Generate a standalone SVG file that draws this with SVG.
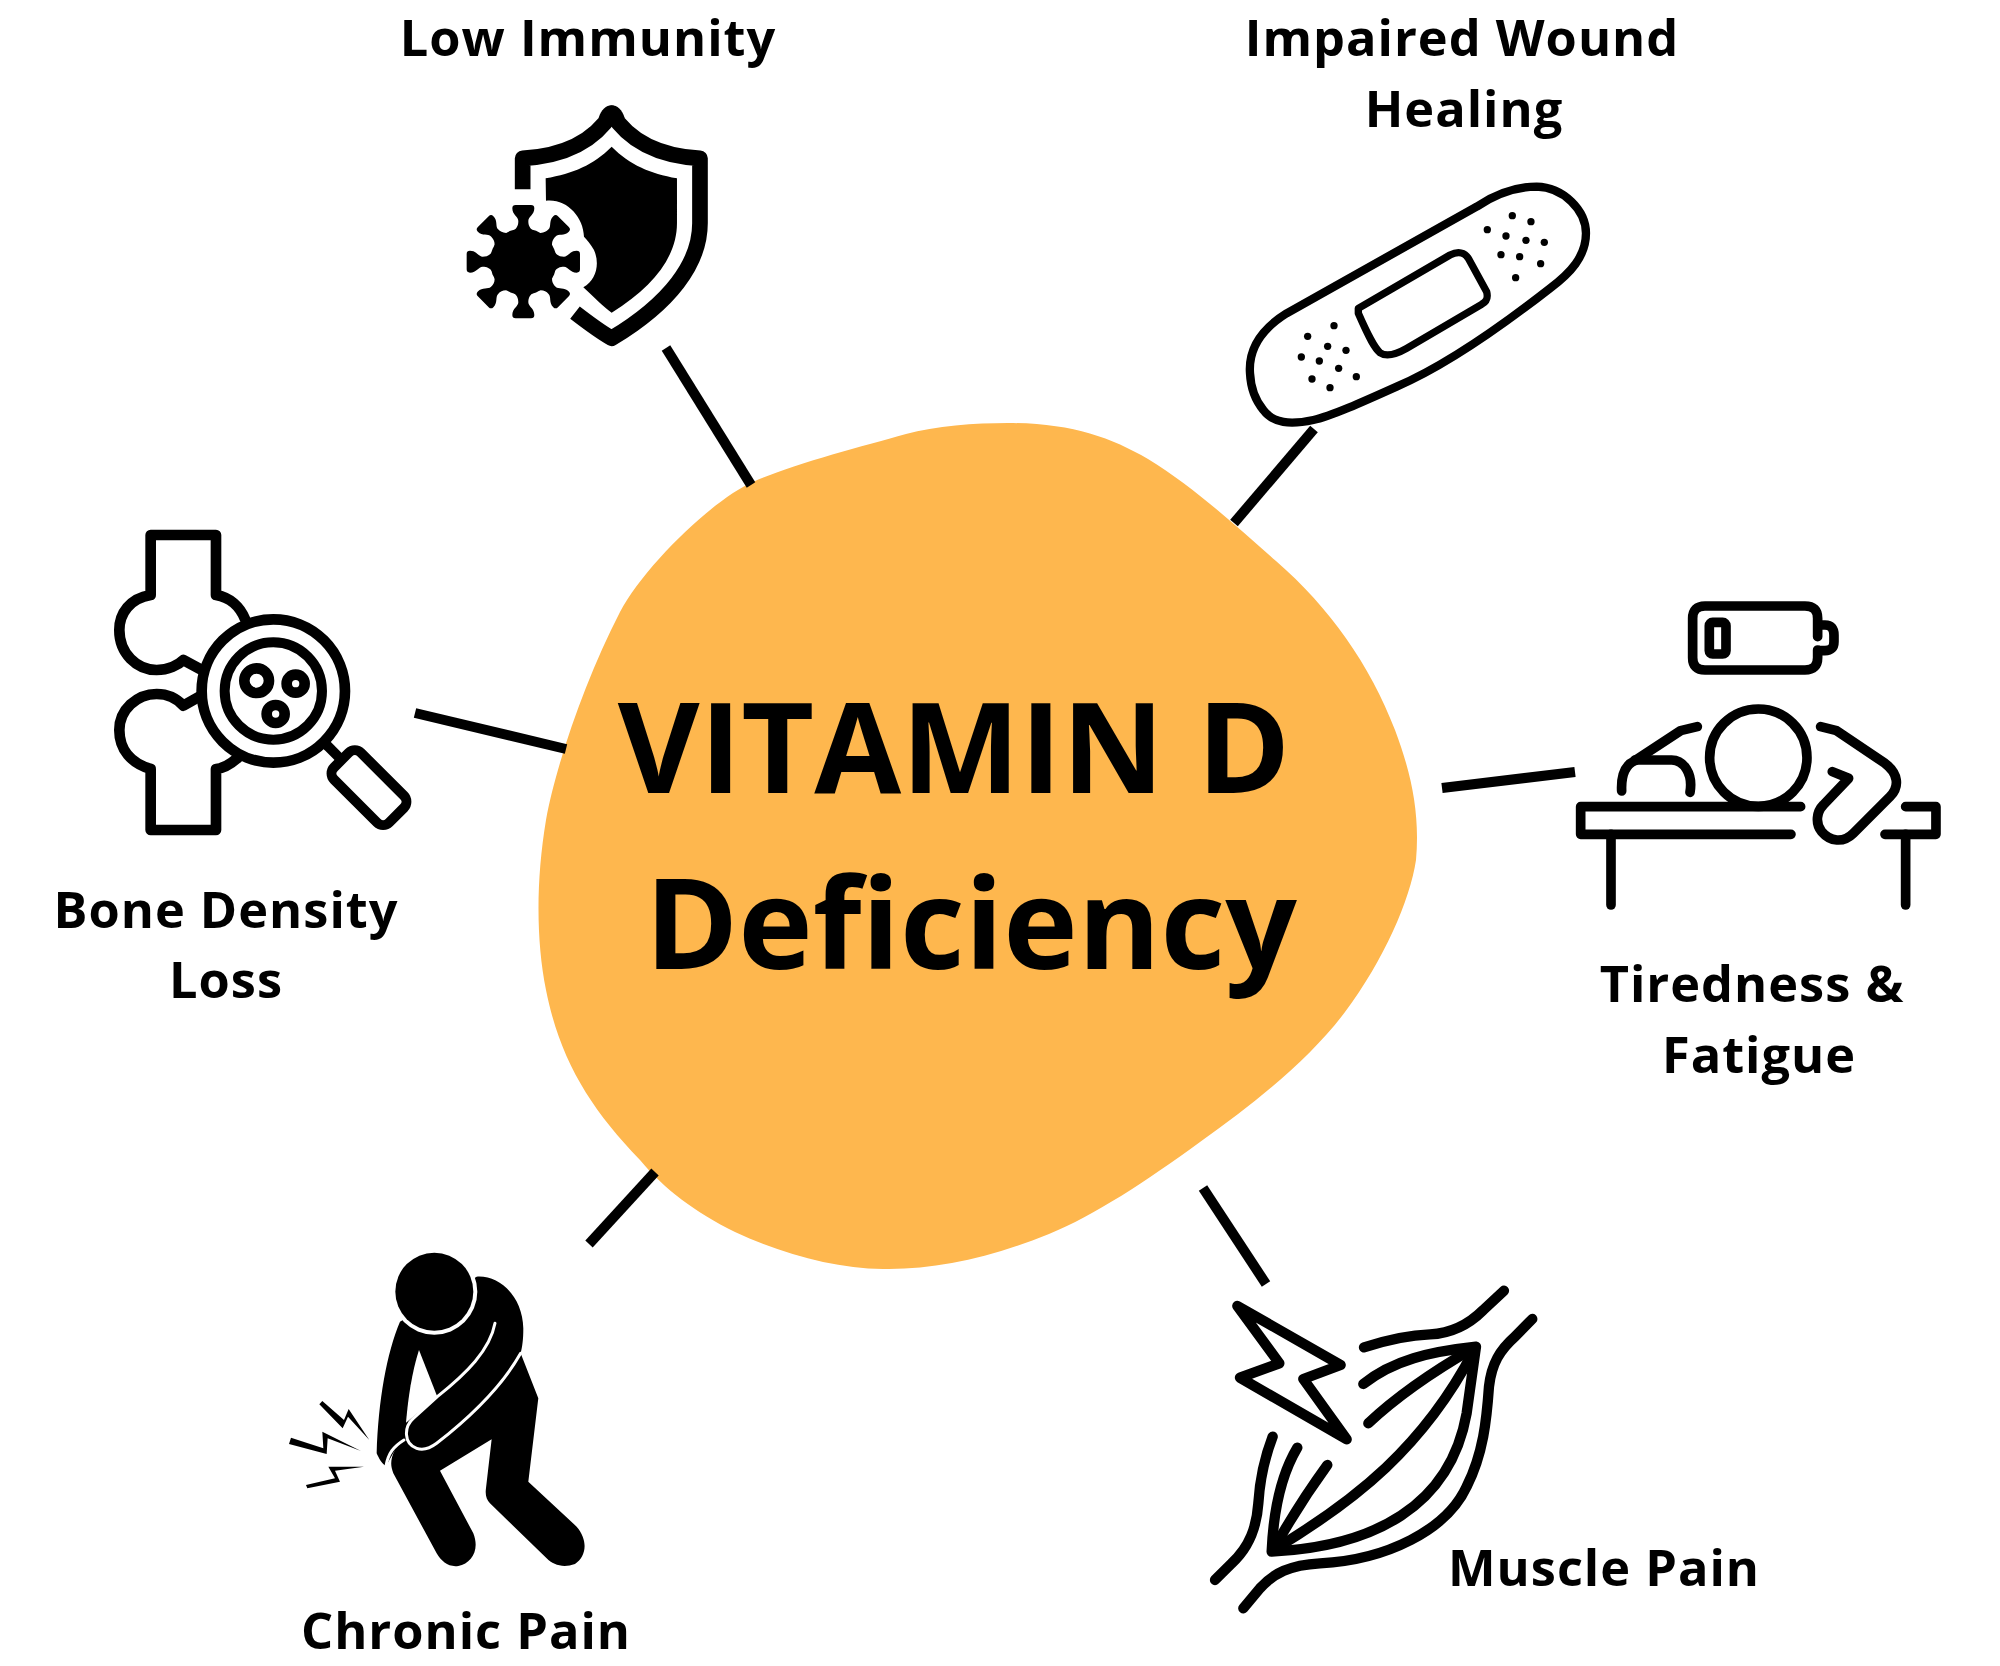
<svg xmlns="http://www.w3.org/2000/svg" xmlns:xlink="http://www.w3.org/1999/xlink" width="2000" height="1666" viewBox="0 0 2000 1666">
<style>
text{font-family:"Open Sans","Noto Sans","Liberation Sans",sans-serif;font-weight:700;fill:#000;text-anchor:middle}
.lb{font-size:50.5px;letter-spacing:1px}
.tt{font-size:126px}
.conn{stroke:#000;stroke-width:10;fill:none}
.ln{fill:none;stroke:#000;stroke-linecap:round;stroke-linejoin:round}
.gap{fill:none;stroke:#fff;stroke-linecap:round;stroke-linejoin:round}
</style>
<defs>
<path id="spike" d="M-34 -90C-18 -100 -15 -110 -15 -122C-15 -135 -33 -140 -33 -160Q-33 -170 -23 -170H23Q33 -170 33 -160C33 -140 15 -135 15 -122C15 -110 18 -100 34 -90Z"/>
</defs>
<rect width="2000" height="1666" fill="#fff"/>
<g id="center">
<path fill="#FEB74E" d="M1008 423C1070 423 1110 437 1148 459C1195 488 1235 525 1276 561C1330 608 1370 665 1395 730C1412 775 1420 815 1416 860C1410 900 1384 960 1345 1012C1312 1056 1262 1098 1200 1142C1145 1182 1095 1215 1049 1234C990 1258 935 1270 883 1269C835 1268 785 1255 735 1232C695 1212 665 1190 640 1160C590 1108 560 1060 546 990C536 940 536 880 546 820C556 765 585 680 620 612C645 565 715 498 753 482C790 465 860 447 906 434C935 426 975 423 1008 423Z"/>
<text class="tt" x="954" y="793">VITAMIN D</text>
<text class="tt" x="971" y="969">Deficiency</text>
</g>
<g id="connectors">
<path class="conn" d="M666 348L751 485"/>
<path class="conn" d="M1314 429L1234 523"/>
<path class="conn" d="M415 713L566 749"/>
<path class="conn" d="M1575 772L1442 788"/>
<path class="conn" d="M1203 1188L1266 1284"/>
<path class="conn" d="M655 1172L589 1244"/>
</g>
<g id="low-immunity">
<text class="lb" x="588" y="56">Low Immunity</text>
<g transform="translate(440 90) scale(.3333)">
<path class="ln" stroke-width="47" d="M248 298V205C370 198 462 155 515 70C568 155 660 198 780 205V400C780 520 690 640 515 745C480 725 440 695 405 668" style="stroke-linecap:butt"/>
<path d="M476 84C490 33 540 33 554 84L515 98Z"/>
<path d="M317 265C400 250 460 225 515 170C570 225 630 250 711 265V400C711 500 640 590 515 668C490 650 460 620 430 592C470 570 480 520 462 480C452 462 442 450 432 440C430 380 380 325 318 332Z"/>
<circle cx="250" cy="515" r="100"/>
<g transform="translate(250 515)">
<use xlink:href="#spike" href="#spike"/>
<use xlink:href="#spike" href="#spike" transform="rotate(45)"/>
<use xlink:href="#spike" href="#spike" transform="rotate(90)"/>
<use xlink:href="#spike" href="#spike" transform="rotate(135)"/>
<use xlink:href="#spike" href="#spike" transform="rotate(180)"/>
<use xlink:href="#spike" href="#spike" transform="rotate(225)"/>
<use xlink:href="#spike" href="#spike" transform="rotate(270)"/>
<use xlink:href="#spike" href="#spike" transform="rotate(315)"/>
</g>
</g>
</g>
<g id="impaired-wound-healing">
<text class="lb" x="1462" y="56">Impaired Wound</text>
<text class="lb" x="1464" y="127">Healing</text>
<g transform="translate(1230 170) scale(.3333)">
<path class="ln" stroke-width="25" d="M60 610C55 540 90 480 170 430L740 110C800 70 860 50 920 50C1000 52 1068 120 1068 190C1068 260 1020 310 960 355C800 480 640 590 500 650C400 695 300 740 250 750C180 765 130 760 100 720C75 690 62 650 60 610Z"/>
<path class="ln" stroke-width="22" d="M385 415L660 255C685 243 705 248 715 265L770 365C775 385 770 395 755 403L530 535C500 552 470 562 450 548C435 535 420 510 385 430Z"/>
<g>
<circle cx="847" cy="137" r="11"/><circle cx="903" cy="155" r="11"/><circle cx="772" cy="179" r="11"/><circle cx="828" cy="198" r="11"/><circle cx="888" cy="211" r="11"/><circle cx="943" cy="217" r="11"/><circle cx="813" cy="254" r="11"/><circle cx="869" cy="260" r="11"/><circle cx="932" cy="281" r="11"/><circle cx="857" cy="323" r="11"/>
<circle cx="312" cy="467" r="11"/><circle cx="233" cy="499" r="11"/><circle cx="293" cy="529" r="11"/><circle cx="348" cy="541" r="11"/><circle cx="214" cy="561" r="11"/><circle cx="268" cy="573" r="11"/><circle cx="326" cy="595" r="11"/><circle cx="379" cy="620" r="11"/><circle cx="246" cy="627" r="11"/><circle cx="300" cy="653" r="11"/>
</g>
</g>
</g>
<g id="bone-density-loss">
<text class="lb" x="226" y="928">Bone Density</text>
<text class="lb" x="226" y="998">Loss</text>
<g transform="translate(100 520) scale(.3333)">
<path class="ln" stroke-width="32" d="M435 297C420 260 390 232 348 225V45H152V225C90 235 58 280 58 330C58 400 110 450 170 450C205 450 235 435 250 420L300 447"/>
<path class="ln" stroke-width="32" d="M298 530L250 557C230 535 200 522 170 522C110 522 58 570 58 630C58 690 95 730 152 747V930H348V747C375 745 395 730 415 712"/>
<circle class="ln" cx="520" cy="513" r="215" stroke-width="32"/>
<circle class="ln" cx="520" cy="513" r="146" stroke-width="30"/>
<circle class="ln" cx="470" cy="482" r="37" stroke-width="32"/>
<circle class="ln" cx="587" cy="491" r="27" stroke-width="32"/>
<circle class="ln" cx="527" cy="582" r="27" stroke-width="32"/>
<path class="ln" stroke-width="30" d="M682 677L722 717"/>
<rect class="ln" x="-117" y="-57" width="234" height="114" rx="26" stroke-width="30" transform="translate(807 803) rotate(45)"/>
</g>
</g>
<g id="tiredness-fatigue">
<text class="lb" x="1752" y="1002">Tiredness &amp;</text>
<text class="lb" x="1759" y="1073">Fatigue</text>
<g transform="translate(1560 590) scale(.3333)">
<g class="ln" stroke-width="29">
<path d="M773 140V85Q773 48 735 48H435Q398 48 398 85V203Q398 240 435 240H735Q773 240 773 203V180"/>
<path d="M785 105H795Q822 105 822 135V155Q822 182 795 182H780"/>
<rect x="448" y="97" width="50" height="95" rx="10"/>
<circle cx="595" cy="503" r="146"/>
<path d="M722 650H62V733H693"/>
<path d="M153 733V945"/>
<path d="M1037 650H1128V733H975"/>
<path d="M1037 733V945"/>
<path d="M412 410L362 422L225 512C195 525 183 560 185 603"/>
<path d="M225 510H335C370 510 400 550 390 607"/>
<path d="M782 410L830 422L975 520C1015 550 1020 590 990 620L880 730C850 760 810 755 785 725C765 700 770 665 790 645L866 565L817 545"/>
</g>
</g>
</g>
<g id="chronic-pain">
<text class="lb" x="466" y="1649">Chronic Pain</text>
<g transform="translate(280 1240) scale(.3333)">
<path d="M590 110C660 105 728 170 730 265C730 300 727 320 722 340L775 475L745 725L890 860C925 900 920 950 885 972C850 985 820 975 800 955L630 790C620 780 615 765 618 745L635 598L480 692L580 880C600 930 575 970 535 978C505 982 485 965 470 940L340 700C330 675 332 655 345 630L318 678C305 672 297 655 290 640C295 480 320 340 360 245Z"/>
<path fill="#fff" d="M417 330C395 400 385 470 378 548L472 470Z"/>
<path class="gap" stroke-width="9" d="M645 250C630 330 560 400 472 470L400 535C372 560 370 610 410 625C430 632 450 625 470 610C560 540 660 450 722 340"/>
<path class="gap" stroke-width="9" d="M318 678C325 640 340 620 372 600"/>
<circle cx="463" cy="155" r="129" fill="#fff"/>
<circle cx="463" cy="155" r="117"/>
<polygon points="118,493 127,483 192,540 206,507 268,600 204,530 188,565"/>
<polygon points="27,612 33,593 130,625 127,575 243,633 143,595 140,642"/>
<polygon points="78,735 165,715 145,680 252,680 165,692 180,725 82,745"/>
</g>
</g>
<g id="muscle-pain">
<text class="lb" x="1604" y="1586">Muscle Pain</text>
<g transform="translate(1190 1280) scale(.3333)">
<g class="ln" stroke-width="31">
<path d="M522 202C590 180 660 165 720 163C790 160 840 130 880 90L942 32"/>
<path d="M1027 117L975 170C930 210 905 250 897 320C890 420 880 520 830 620C770 750 590 840 390 850C300 855 250 880 210 925L160 985"/>
<path d="M75 900L125 850C180 800 200 740 205 670C210 590 225 530 248 470"/>
<path d="M322 503C270 590 250 700 245 815C550 800 780 680 830 400L858 200C720 215 610 240 520 312"/>
<path d="M250 810C500 660 700 500 850 215"/>
<path d="M535 430C620 350 720 280 850 205"/>
<path d="M412 555C350 640 300 720 255 800"/>
<path d="M142 78L452 255L340 297L470 478L150 293L268 250Z"/>
</g>
</g>
</g>
</svg>
